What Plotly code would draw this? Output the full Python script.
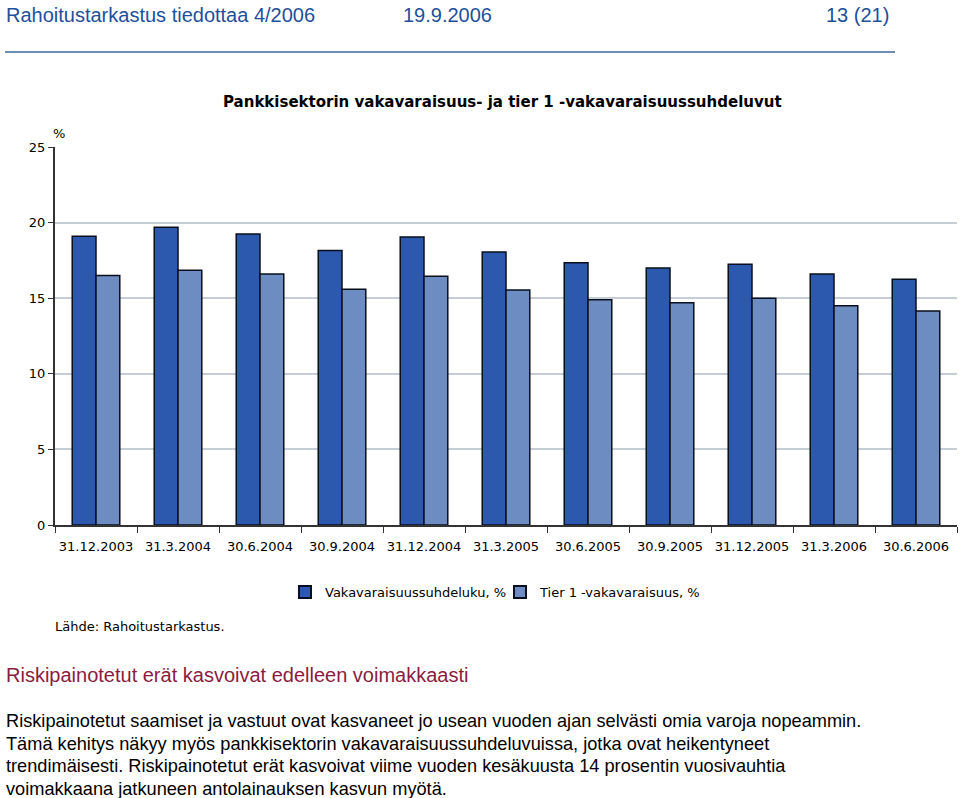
import plotly.graph_objects as go

# Data
paivamaarat = ["31.12.2003", "31.3.2004", "30.6.2004", "30.9.2004", "31.12.2004",
               "31.3.2005", "30.6.2005", "30.9.2005", "31.12.2005", "31.3.2006",
               "30.6.2006"]
vakavaraisuus = [19.1, 19.7, 19.25, 18.15, 19.05, 18.05, 17.35, 17.0, 17.25, 16.6, 16.25]
tier1 = [16.5, 16.85, 16.6, 15.6, 16.45, 15.55, 14.9, 14.7, 15.0, 14.5, 14.15]
y_ticks = [0, 5, 10, 15, 20, 25]

W, H = 960, 798
L, R, T, B = 55, 3, 147, 273
PW, PH = W - L - R, H - T - B


def px(x):
    return (x - L) / PW


def py(y):
    return (H - B - y) / PH


CHART_FONT = "DejaVu Sans"
TEXT_FONT = "Liberation Sans, Arial"

fig = go.Figure()
fig.add_trace(go.Bar(
    x=paivamaarat, y=vakavaraisuus, name="Vakavaraisuussuhdeluku, %",
    marker=dict(color="#2c58ad", line=dict(color="#0a0f1e", width=1.5)),
))
fig.add_trace(go.Bar(
    x=paivamaarat, y=tier1, name="Tier 1 -vakavaraisuus, %",
    marker=dict(color="#6d8cc2", line=dict(color="#0a0f1e", width=1.5)),
))

fig.update_layout(
    width=W, height=H,
    margin=dict(l=L, r=R, t=T, b=B, pad=0),
    paper_bgcolor="white", plot_bgcolor="white",
    barmode="group", bargap=0.42, bargroupgap=0,
    font=dict(family=CHART_FONT, size=13, color="black"),
    showlegend=True,
    legend=dict(
        orientation="h", x=px(285), y=py(592), xanchor="left", yanchor="middle",
        font=dict(family=CHART_FONT, size=13, color="black"),
        itemsizing="constant", traceorder="normal",
        entrywidth=170, entrywidthmode="pixels",
    ),
    xaxis=dict(
        showline=True, linecolor="#333333", linewidth=2,
        ticks="outside", tickson="boundaries", ticklen=6, tickcolor="#333333",
        tickfont=dict(size=13), tickangle=0, ticklabelstandoff=8, showgrid=False,
    ),
    yaxis=dict(
        range=[0, 25], tickvals=y_ticks,
        showline=True, linecolor="#333333", linewidth=2,
        ticks="outside", ticklen=5, tickcolor="#333333",
        showgrid=True, gridcolor="#c5ced6", gridwidth=1.5,
        zeroline=False, tickfont=dict(size=13),
    ),
)

annotations = [
    dict(text="<b>Pankkisektorin vakavaraisuus- ja tier 1 -vakavaraisuussuhdeluvut</b>",
         x=px(502), y=py(102), xanchor="center", yanchor="middle",
         font=dict(family=CHART_FONT, size=15, color="black")),
    dict(text="%", x=px(51), y=py(133), xanchor="left", yanchor="middle",
         font=dict(family=CHART_FONT, size=13)),
    dict(text="Lähde: Rahoitustarkastus.", x=px(53), y=py(626), xanchor="left", yanchor="middle",
         font=dict(family=CHART_FONT, size=13)),
    dict(text="Rahoitustarkastus tiedottaa 4/2006", x=px(4), y=py(15), xanchor="left", yanchor="middle",
         font=dict(family=TEXT_FONT, size=20, color="#1f4f9c")),
    dict(text="19.9.2006", x=px(401), y=py(15), xanchor="left", yanchor="middle",
         font=dict(family=TEXT_FONT, size=20, color="#1f4f9c")),
    dict(text="13 (21)", x=px(891), y=py(15), xanchor="right", yanchor="middle",
         font=dict(family=TEXT_FONT, size=20, color="#1f4f9c")),
    dict(text="Riskipainotetut erät kasvoivat edelleen voimakkaasti", x=px(4), y=py(675),
         xanchor="left", yanchor="middle",
         font=dict(family=TEXT_FONT, size=20, color="#8b1c3e")),
]
body = [
    "Riskipainotetut saamiset ja vastuut ovat kasvaneet jo usean vuoden ajan selvästi omia varoja nopeammin.",
    "Tämä kehitys näkyy myös pankkisektorin vakavaraisuussuhdeluvuissa, jotka ovat heikentyneet",
    "trendimäisesti. Riskipainotetut erät kasvoivat viime vuoden kesäkuusta 14 prosentin vuosivauhtia",
    "voimakkaana jatkuneen antolainauksen kasvun myötä.",
]
for i, line in enumerate(body):
    annotations.append(dict(text=line, x=px(4), y=py(721 + i * 22.7), xanchor="left", yanchor="middle",
                            font=dict(family=TEXT_FONT, size=18.2, color="black")))
for a in annotations:
    a.update(xref="paper", yref="paper", showarrow=False)
fig.update_layout(annotations=annotations)

fig.add_shape(type="line", xref="paper", yref="paper", x0=px(5), x1=px(895), y0=py(52), y1=py(52),
              line=dict(color="#6f8db0", width=2))

# sivun oletusmarginaali pois, jotta kuva osuu ikkunaan
fig.write_html("out.html", config={"displayModeBar": False},
               post_script="document.body.style.margin='0';document.body.style.overflow='hidden';")
